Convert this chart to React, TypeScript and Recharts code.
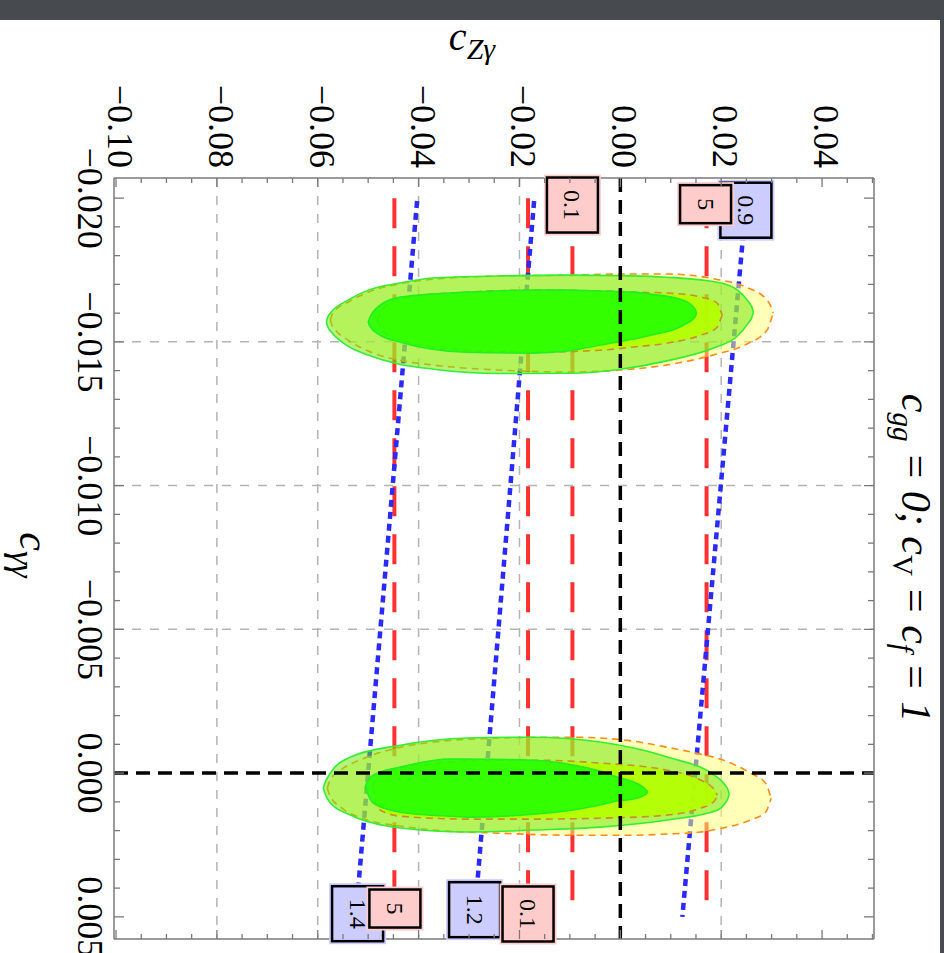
import React from 'react';
import {
  ComposedChart,
  Area,
  Line,
  XAxis,
  YAxis,
  ReferenceLine,
  ReferenceDot,
} from 'recharts';

const FONT = '"Liberation Serif", "Times New Roman", serif';
const FRAME = '#7a7a7a';

// c_Zγ runs across, c_γγ runs down (the plot is turned a quarter)
const Z_DOMAIN: [number, number] = [-0.1004, 0.0503];
const G_DOMAIN: [number, number] = [-0.0207, 0.00577];

const Z_MAJOR = [-0.1, -0.08, -0.06, -0.04, -0.02, 0, 0.02, 0.04];
const Z_LABELS = ['−0.10', '−0.08', '−0.06', '−0.04', '−0.02', '0.00', '0.02', '0.04'];
const Z_MINOR = [
  -0.095, -0.09, -0.085, -0.075, -0.07, -0.065, -0.055, -0.05, -0.045, -0.035, -0.03, -0.025,
  -0.015, -0.01, -0.005, 0.005, 0.01, 0.015, 0.025, 0.03, 0.035, 0.045, 0.05,
];
const G_MAJOR = [-0.02, -0.015, -0.01, -0.005, 0, 0.005];
const G_LABELS = ['−0.020', '−0.015', '−0.010', '−0.005', '0.000', '0.005'];
const G_MINOR = [
  -0.019, -0.018, -0.017, -0.016, -0.014, -0.013, -0.012, -0.011, -0.009, -0.008, -0.007, -0.006,
  -0.004, -0.003, -0.002, -0.001, 0.001, 0.002, 0.003, 0.004,
];

const GRID_Z = [-0.08, -0.06, -0.04, -0.02, 0.02];
const GRID_G = [-0.015, -0.01, -0.005];

// red dashed contours (5 and 0.1)
const RED_Z = [-0.0448, -0.0183, -0.0095, 0.0171];
const RED_G = [-0.02, 0.00505];

// blue dotted contours (1.4, 1.2, 0.9)
const BLUE_Z_TOP = [-0.0403, -0.0171, 0.0248];
const BLUE_G_TOP = [-0.0199, -0.0199, -0.0196];
const BLUE_Z_BOT = [-0.0524, -0.0288, 0.0123];
const BLUE_G_BOT = [0.00487, 0.00477, 0.005];

// contour tags
const TAG_TEXT = ['0.9', '1.4', '1.2', '0.1', '5', '5', '0.1'];
const TAG_KIND = ['blue', 'blue', 'blue', 'red', 'red', 'red', 'red'];
const TAG_Z = [0.0249, -0.0521, -0.0289, -0.0095, 0.0169, -0.0447, -0.0183];
const TAG_G = [-0.01958, 0.00489, 0.00475, -0.01976, -0.01979, 0.00471, 0.0049];

// upper island (c_γγ ≈ -0.016)
const UP_OUT_Y_Z = [-0.0575, -0.0572, -0.0565, -0.054, -0.05, -0.044, -0.037, -0.024, -0.01, 0, 0.009, 0.019, 0.025, 0.0291, 0.03, 0.0303];
const UP_OUT_Y_TOP = [-0.01576, -0.01593, -0.0161, -0.01638, -0.01673, -0.01701, -0.01718, -0.01729, -0.01732, -0.01736, -0.01736, -0.01718, -0.0169, -0.01645, -0.01617, -0.016];
const UP_OUT_Y_BOT = [-0.01576, -0.01559, -0.01541, -0.01506, -0.01468, -0.01437, -0.01419, -0.01402, -0.01395, -0.01402, -0.01419, -0.01457, -0.01492, -0.01541, -0.01583, -0.016];

const UP_OUT_G_Z = [-0.0583, -0.058, -0.0573, -0.054, -0.05, -0.044, -0.037, -0.024, -0.01, 0, 0.009, 0.019, 0.023, 0.0254, 0.0261, 0.0264];
const UP_OUT_G_TOP = [-0.01569, -0.01586, -0.01604, -0.01645, -0.0168, -0.01704, -0.01722, -0.01729, -0.01732, -0.0173, -0.01725, -0.01708, -0.01683, -0.0164, -0.0162, -0.01603];
const UP_OUT_G_BOT = [-0.01569, -0.01552, -0.01534, -0.01485, -0.01454, -0.01423, -0.01405, -0.0139, -0.01391, -0.01405, -0.01433, -0.01482, -0.01517, -0.01566, -0.01586, -0.01603];

const UP_IN_Y_Z = [-0.0482, -0.0479, -0.0466, -0.0436, -0.0303, -0.0173, -0.004, 0.0026, 0.0093, 0.0159, 0.0192, 0.0199, 0.0202];
const UP_IN_Y_TOP = [-0.01576, -0.0159, -0.01624, -0.01652, -0.01673, -0.0168, -0.01677, -0.01673, -0.0167, -0.01656, -0.01635, -0.01607, -0.01593];
const UP_IN_Y_BOT = [-0.01576, -0.01562, -0.0153, -0.01506, -0.01471, -0.01464, -0.01471, -0.01482, -0.01496, -0.01523, -0.01551, -0.01579, -0.01593];

const UP_IN_G_Z = [-0.05, -0.0497, -0.0476, -0.0436, -0.0303, -0.0173, -0.0105, -0.004, 0.0026, 0.006, 0.0125, 0.0148, 0.0151];
const UP_IN_G_TOP = [-0.01569, -0.01583, -0.01628, -0.01656, -0.01673, -0.0168, -0.0168, -0.01677, -0.01673, -0.01666, -0.01645, -0.01614, -0.016];
const UP_IN_G_BOT = [-0.01569, -0.01555, -0.01523, -0.01499, -0.01464, -0.01461, -0.01468, -0.01489, -0.0151, -0.01523, -0.01558, -0.01586, -0.016];

// lower island (c_γγ ≈ 0.0005)
const LO_OUT_Y_Z = [-0.0581, -0.0578, -0.0573, -0.0555, -0.0502, -0.0436, -0.0371, -0.0238, -0.0105, -0.004, 0.0026, 0.0093, 0.0159, 0.0192, 0.0258, 0.0288, 0.0296, 0.0299];
const LO_OUT_Y_TOP = [0.00052, 0.00035, 0.00017, -0.0001, -0.00056, -0.0009, -0.00108, -0.00122, -0.00125, -0.00122, -0.00111, -0.0009, -0.00066, -0.00052, 0, 0.00035, 0.0007, 0.00087];
const LO_OUT_Y_BOT = [0.00052, 0.00069, 0.00087, 0.00118, 0.00163, 0.00184, 0.00198, 0.00209, 0.00216, 0.00216, 0.00216, 0.00212, 0.00205, 0.00195, 0.00163, 0.00136, 0.00104, 0.00087];

const LO_OUT_G_Z = [-0.0589, -0.0586, -0.0575, -0.0535, -0.0436, -0.0303, -0.0173, -0.004, 0.0093, 0.0192, 0.0208, 0.0213, 0.0216];
const LO_OUT_G_TOP = [0.00052, 0.00035, 0, -0.00056, -0.00097, -0.00122, -0.00125, -0.00108, -0.00056, 0.00014, 0.00042, 0.00056, 0.00073];
const LO_OUT_G_BOT = [0.00052, 0.00069, 0.00104, 0.00146, 0.00191, 0.00205, 0.00198, 0.00188, 0.00163, 0.00129, 0.00104, 0.0009, 0.00073];

const LO_IN_Y_Z = [-0.0492, -0.0489, -0.0482, -0.0436, -0.0303, -0.0238, -0.0173, -0.004, 0.0093, 0.0159, 0.0182, 0.0189, 0.0192];
const LO_IN_Y_TOP = [0.00049, 0.00035, 0.00014, -0.00017, -0.00042, -0.00045, -0.00045, -0.00035, -0.0001, 0.00024, 0.00049, 0.00063, 0.00077];
const LO_IN_Y_BOT = [0.00049, 0.00063, 0.00122, 0.0015, 0.0016, 0.0016, 0.0016, 0.00157, 0.00146, 0.00122, 0.00104, 0.00091, 0.00077];

const LO_IN_G_Z = [-0.0506, -0.0503, -0.049, -0.0436, -0.0337, -0.0303, -0.0173, -0.0073, -0.004, -0.0006, 0.0026, 0.0051, 0.0054];
const LO_IN_G_TOP = [0.00049, 0.00035, 0.00007, -0.00021, -0.00049, -0.00049, -0.00045, -0.00021, -0.00007, 0.00014, 0.00031, 0.00059, 0.00066];
const LO_IN_G_BOT = [0.00049, 0.00063, 0.00104, 0.00136, 0.0015, 0.00153, 0.00143, 0.00122, 0.00111, 0.00097, 0.0009, 0.00073, 0.00066];

const band = (z: number[], top: number[], bot: number[]) =>
  z.map((v, i) => ({ z: v, r: [top[i], bot[i]] }));

const isMajor = (list: number[], v: number) => list.findIndex((m) => Math.abs(m - v) < 1e-9);

const TopTick = (p: any) => {
  const { x, y, payload } = p;
  const i = isMajor(Z_MAJOR, payload.value);
  return (
    <g>
      <line x1={x} x2={x} y1={y} y2={y + (i >= 0 ? 9 : 5)} stroke={FRAME} strokeWidth={1.3} />
      {i >= 0 && (
        <text
          x={x - 8}
          y={y - 10}
          transform={`rotate(90, ${x - 8}, ${y - 10})`}
          textAnchor="end"
          fontSize={36}
          fontFamily={FONT}
          fill="#000"
        >
          {Z_LABELS[i]}
        </text>
      )}
    </g>
  );
};

const BottomTick = (p: any) => {
  const { x, y, payload } = p;
  const i = isMajor(Z_MAJOR, payload.value);
  return <line x1={x} x2={x} y1={y} y2={y - (i >= 0 ? 9 : 5)} stroke={FRAME} strokeWidth={1.3} />;
};

const LeftTick = (p: any) => {
  const { x, y, payload } = p;
  const i = isMajor(G_MAJOR, payload.value);
  return (
    <g>
      <line x1={x} x2={x + (i >= 0 ? 10 : 6)} y1={y} y2={y} stroke={FRAME} strokeWidth={1.3} />
      {i >= 0 && (
        <text
          x={x - 36}
          y={y}
          transform={`rotate(90, ${x - 36}, ${y})`}
          textAnchor="middle"
          fontSize={36}
          fontFamily={FONT}
          fill="#000"
        >
          {G_LABELS[i]}
        </text>
      )}
    </g>
  );
};

const RightTick = (p: any) => {
  const { x, y, payload } = p;
  const i = isMajor(G_MAJOR, payload.value);
  return <line x1={x} x2={x - (i >= 0 ? 10 : 6)} y1={y} y2={y} stroke={FRAME} strokeWidth={1.3} />;
};

const Tag = ({ cx, cy, text, kind }: { cx: number; cy: number; text: string; kind: string }) => {
  const fill = kind === 'red' ? '#ffcccc' : '#ccccff';
  const w = 51;
  const h = text.length === 1 ? 38 : 55;
  return (
    <g>
      <rect x={cx - w / 2 - 3} y={cy - h / 2 - 3} width={w + 6} height={h + 6} fill={fill} />
      <rect x={cx - w / 2} y={cy - h / 2} width={w} height={h} fill={fill} stroke="#000" strokeWidth={2.5} />
      <text
        x={cx}
        y={cy}
        transform={`rotate(90, ${cx}, ${cy})`}
        textAnchor="middle"
        dominantBaseline="central"
        fontSize={24}
        fontFamily={FONT}
        fill="#000"
      >
        {text}
      </text>
    </g>
  );
};

const REGIONS = [
  { data: band(UP_OUT_Y_Z, UP_OUT_Y_TOP, UP_OUT_Y_BOT), kind: 'outY' },
  { data: band(LO_OUT_Y_Z, LO_OUT_Y_TOP, LO_OUT_Y_BOT), kind: 'outY' },
  { data: band(UP_OUT_G_Z, UP_OUT_G_TOP, UP_OUT_G_BOT), kind: 'outG' },
  { data: band(LO_OUT_G_Z, LO_OUT_G_TOP, LO_OUT_G_BOT), kind: 'outG' },
  { data: band(UP_IN_Y_Z, UP_IN_Y_TOP, UP_IN_Y_BOT), kind: 'inY' },
  { data: band(LO_IN_Y_Z, LO_IN_Y_TOP, LO_IN_Y_BOT), kind: 'inY' },
  { data: band(UP_IN_G_Z, UP_IN_G_TOP, UP_IN_G_BOT), kind: 'inG' },
  { data: band(LO_IN_G_Z, LO_IN_G_TOP, LO_IN_G_BOT), kind: 'inG' },
];

const REGION_STYLE: Record<string, any> = {
  outY: { fill: '#ffff70', fillOpacity: 0.5, stroke: '#ff8c1a', strokeDasharray: '7 5', z: 100 },
  outG: { fill: '#6ae800', fillOpacity: 0.5, stroke: '#33ee33', strokeDasharray: undefined, z: 110 },
  inY: { fill: '#b4ff00', fillOpacity: 0.92, stroke: '#c89030', strokeDasharray: '7 5', z: 120 },
  inG: { fill: '#22ff00', fillOpacity: 0.88, stroke: '#22ee22', strokeDasharray: undefined, z: 130 },
};

export default function App() {
  const zTicks = [...Z_MAJOR, ...Z_MINOR].sort((a, b) => a - b);
  const gTicks = [...G_MAJOR, ...G_MINOR].sort((a, b) => a - b);
  return (
    <div style={{ position: 'absolute', left: 0, top: 0, width: 944, height: 953, overflow: 'hidden', background: '#474a4f' }}>
      <div style={{ position: 'absolute', left: 0, top: 20, width: 940, height: 933, background: '#ffffff' }} />
      <div style={{ position: 'absolute', left: 0, top: 0 }}>
        <ComposedChart width={944} height={953} margin={{ top: 78, left: 14, right: 50, bottom: 4 }}>
          <XAxis
            xAxisId="t"
            orientation="top"
            type="number"
            dataKey="z"
            domain={Z_DOMAIN}
            allowDataOverflow
            ticks={zTicks}
            interval={0}
            tick={<TopTick />}
            tickLine={false}
            tickSize={0}
            tickMargin={0}
            height={100}
            axisLine={{ stroke: FRAME, strokeWidth: 1.5 }}
          />
          <XAxis
            xAxisId="b"
            orientation="bottom"
            type="number"
            dataKey="z"
            domain={Z_DOMAIN}
            allowDataOverflow
            ticks={zTicks}
            interval={0}
            tick={<BottomTick />}
            tickLine={false}
            tickSize={0}
            tickMargin={0}
            height={10}
            axisLine={{ stroke: FRAME, strokeWidth: 1.5 }}
          />
          <YAxis
            yAxisId="l"
            orientation="left"
            type="number"
            domain={G_DOMAIN}
            allowDataOverflow
            reversed
            ticks={gTicks}
            interval={0}
            tick={<LeftTick />}
            tickLine={false}
            tickSize={0}
            tickMargin={0}
            width={100}
            axisLine={{ stroke: FRAME, strokeWidth: 1.5 }}
          />
          <YAxis
            yAxisId="r"
            orientation="right"
            type="number"
            domain={G_DOMAIN}
            allowDataOverflow
            reversed
            ticks={gTicks}
            interval={0}
            tick={<RightTick />}
            tickLine={false}
            tickSize={0}
            tickMargin={0}
            width={20}
            axisLine={{ stroke: FRAME, strokeWidth: 1.5 }}
          />

          {GRID_Z.map((v) => (
            <ReferenceLine key={`gz${v}`} xAxisId="t" yAxisId="l" x={v} stroke="#b4b4b4" strokeWidth={1.5} strokeDasharray="9 9" zIndex={-50} />
          ))}
          {GRID_G.map((v) => (
            <ReferenceLine key={`gg${v}`} xAxisId="t" yAxisId="l" y={v} stroke="#b4b4b4" strokeWidth={1.5} strokeDasharray="9 9" zIndex={-50} />
          ))}

          {RED_Z.map((v) => (
            <Line
              key={`red${v}`}
              xAxisId="t"
              yAxisId="l"
              data={RED_G.map((g) => ({ z: v, g }))}
              dataKey="g"
              type="linear"
              stroke="#ff3030"
              strokeWidth={4}
              strokeDasharray="30 18"
              dot={false}
              activeDot={false}
              isAnimationActive={false}
              zIndex={50}
            />
          ))}
          {BLUE_Z_TOP.map((v, i) => (
            <Line
              key={`blue${i}`}
              xAxisId="t"
              yAxisId="l"
              data={[
                { z: v, g: BLUE_G_TOP[i] },
                { z: BLUE_Z_BOT[i], g: BLUE_G_BOT[i] },
              ]}
              dataKey="g"
              type="linear"
              stroke="#2a2aff"
              strokeWidth={4.5}
              strokeDasharray="7 5"
              dot={false}
              activeDot={false}
              isAnimationActive={false}
              zIndex={50}
            />
          ))}

          {REGIONS.map((r, i) => {
            const s = REGION_STYLE[r.kind];
            return (
              <Area
                key={`reg${i}`}
                xAxisId="t"
                yAxisId="l"
                data={r.data}
                dataKey="r"
                type="monotone"
                fill={s.fill}
                fillOpacity={s.fillOpacity}
                stroke={s.stroke}
                strokeWidth={1.6}
                strokeDasharray={s.strokeDasharray}
                dot={false}
                activeDot={false}
                isAnimationActive={false}
                zIndex={s.z}
              />
            );
          })}

          <ReferenceLine xAxisId="t" yAxisId="l" x={0} stroke="#000" strokeWidth={3.5} strokeDasharray="14 8" zIndex={400} />
          <ReferenceLine xAxisId="t" yAxisId="l" y={0} stroke="#000" strokeWidth={3.5} strokeDasharray="14 8" zIndex={400} />

          {TAG_TEXT.map((t, i) => (
            <ReferenceDot
              key={`tag${i}`}
              xAxisId="t"
              yAxisId="l"
              x={TAG_Z[i]}
              y={TAG_G[i]}
              r={0}
              ifOverflow="visible"
              zIndex={700}
              shape={(p: any) => <Tag cx={p.cx} cy={p.cy} text={t} kind={TAG_KIND[i]} />}
            />
          ))}
        </ComposedChart>
      </div>
      <svg width={944} height={953} style={{ position: 'absolute', left: 0, top: 0, pointerEvents: 'none' }}>
        <text x={472} y={50} textAnchor="middle" fontSize={40} fontStyle="italic" fontFamily={FONT} fill="#000">
          c
          <tspan dy={9} fontSize={30}>Zγ</tspan>
        </text>
        <text
          x={20}
          y={555}
          transform="rotate(90, 20, 555)"
          textAnchor="middle"
          fontSize={42}
          fontStyle="italic"
          fontFamily={FONT}
          fill="#000"
        >
          c
          <tspan dy={9} fontSize={34}>γγ</tspan>
        </text>
        <text
          x={902}
          y={558}
          transform="rotate(90, 902, 558)"
          textAnchor="middle"
          fontSize={42}
          fontStyle="italic"
          fontFamily={FONT}
          fill="#000"
        >
          c<tspan dy={9} fontSize={29}>gg</tspan>
          <tspan dy={-9}> = 0;  c</tspan>
          <tspan dy={9} fontSize={29} fontStyle="normal">V</tspan>
          <tspan dy={-9}> = c</tspan>
          <tspan dy={9} fontSize={29}>f</tspan>
          <tspan dy={-9}> = 1</tspan>
        </text>
      </svg>
    </div>
  );
}
